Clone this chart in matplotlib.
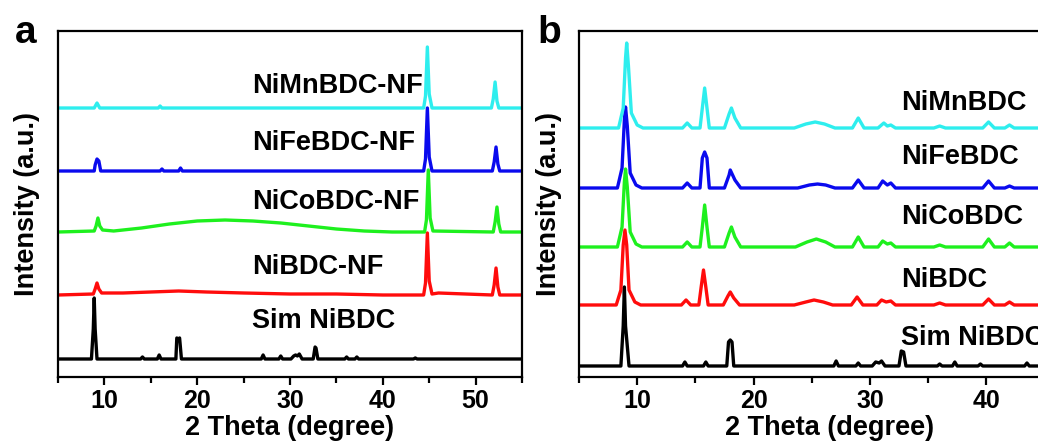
import matplotlib.pyplot as plt
from matplotlib.ticker import MultipleLocator

plt.rcParams['font.family'] = ['Liberation Sans', 'DejaVu Sans']
plt.rcParams['font.weight'] = 'bold'

### XRD patterns as (2 theta, intensity above own baseline) vertices ###

# (a) films grown on nickel foam
a_sim = [(5, 0), (8.6, 0), (8.8, 30), (8.9, 61), (9.0, 30), (9.2, 0), (13.9, 0), (14.1, 2), (14.3, 0),
         (15.7, 0), (15.9, 4), (16.1, 0), (17.7, 0), (17.8, 21), (18.0, 20), (18.1, 21), (18.3, 0),
         (26.9, 0), (27.1, 4), (27.3, 0), (28.8, 0), (29.0, 3), (29.2, 0), (30.1, 0), (30.4, 3),
         (30.6, 4), (30.8, 3), (31.0, 5), (31.3, 0), (32.5, 0), (32.7, 12), (32.8, 11), (33.0, 0),
         (35.9, 0), (36.1, 2), (36.3, 0), (37.0, 0), (37.2, 2), (37.4, 0), (43.3, 0), (43.5, 1),
         (43.7, 0), (55, 0)]
a_ni = [(5, 0), (8.8, 1), (9.0, 6), (9.2, 12), (9.4, 6), (9.7, 2), (12, 2), (15, 3), (18, 4), (21, 3),
        (25, 2), (30, 1), (35, 1), (40, 0), (44.4, 0), (44.6, 12), (44.8, 62), (45.0, 14), (45.3, 1),
        (46, 2), (51.8, 0), (52.0, 10), (52.2, 27), (52.4, 8), (52.6, 0), (55, 0)]
a_nico = [(5, 0), (8.9, 1), (9.1, 6), (9.3, 14), (9.5, 6), (9.8, 2), (11, 1), (14, 4), (17, 8), (20, 11),
          (23, 12), (26, 11), (29, 9), (32, 6), (35, 3), (38, 1), (41, 0), (44.5, 0), (44.7, 12),
          (44.9, 62), (45.1, 14), (45.4, 1), (51.9, 0), (52.1, 10), (52.3, 25), (52.5, 8), (52.7, 0),
          (55, 0)]
a_nife = [(5, 0), (8.9, 0), (9.0, 6), (9.2, 12), (9.4, 10), (9.6, 0), (16.0, 0), (16.2, 2), (16.4, 0),
          (18.0, 0), (18.2, 3), (18.4, 0), (44.4, 0), (44.6, 12), (44.8, 63), (45.0, 14), (45.3, 0),
          (51.8, 0), (52.0, 9), (52.2, 24), (52.4, 7), (52.6, 0), (55, 0)]
a_nimn = [(5, 0), (8.9, 0), (9.2, 5), (9.5, 0), (15.8, 0), (16.0, 2), (16.2, 0), (44.4, 0), (44.6, 12),
          (44.8, 61), (45.0, 14), (45.3, 0), (51.7, 0), (51.9, 9), (52.1, 26), (52.3, 7), (52.5, 0),
          (55, 0)]

# (b) powders
b_sim = [(5, 0), (8.6, 0), (8.8, 40), (8.9, 79), (9.0, 40), (9.3, 0), (13.9, 0), (14.1, 4), (14.3, 0),
         (15.7, 0), (15.9, 4), (16.1, 0), (17.7, 0), (17.85, 24), (18.0, 26), (18.15, 24), (18.3, 0),
         (26.9, 0), (27.1, 5), (27.3, 0), (28.8, 0), (29.0, 3), (29.2, 0), (30.2, 0), (30.5, 4),
         (30.8, 3), (31.0, 5), (31.3, 0), (32.5, 0), (32.7, 15), (32.9, 14), (33.1, 0), (35.8, 0),
         (36.0, 2), (36.2, 0), (37.1, 0), (37.3, 4), (37.5, 0), (39.3, 0), (39.5, 2), (39.7, 0),
         (43.3, 0), (43.5, 3), (43.7, 0), (48, 0)]
b_ni = [(5, 0), (8.2, 0), (8.6, 15), (8.8, 60), (8.95, 75), (9.1, 60), (9.3, 15), (9.8, 3), (10.3, 0),
        (13.8, 0), (14.2, 5), (14.6, 0), (15.3, 0), (15.5, 18), (15.7, 35), (15.9, 18), (16.1, 0),
        (17.4, 0), (17.8, 9), (18.0, 13), (18.3, 7), (18.8, 0), (23.5, 0), (24.5, 3), (25.2, 5),
        (26.0, 3), (26.8, 0), (28.4, 0), (28.9, 8), (29.4, 0), (30.6, 0), (31.0, 5), (31.4, 3),
        (31.8, 4), (32.2, 0), (35.5, 0), (36.0, 2), (36.5, 0), (39.7, 0), (40.2, 6), (40.7, 0),
        (41.6, 0), (42.0, 3), (42.4, 0), (48, 0)]
b_nico = [(5, 0), (8.3, 0), (8.7, 20), (8.9, 65), (9.0, 78), (9.15, 60), (9.4, 15), (9.9, 3), (10.4, 0),
          (13.9, 0), (14.3, 5), (14.7, 0), (15.4, 0), (15.6, 20), (15.8, 42), (16.0, 20), (16.2, 0),
          (17.5, 0), (17.9, 14), (18.1, 20), (18.4, 10), (18.9, 0), (23.6, 0), (24.6, 5), (25.4, 8),
          (26.2, 5), (27.0, 0), (28.5, 0), (29.0, 10), (29.5, 0), (30.7, 0), (31.1, 6), (31.5, 3),
          (31.8, 4), (32.2, 0), (35.5, 0), (36.0, 2), (36.5, 0), (39.7, 0), (40.2, 8), (40.7, 0),
          (41.6, 0), (42.0, 4), (42.4, 0), (48, 0)]
b_nife = [(5, 0), (8.3, 0), (8.7, 20), (8.9, 68), (9.0, 81), (9.15, 62), (9.4, 15), (9.9, 3), (10.4, 0),
          (13.9, 0), (14.3, 5), (14.7, 0), (15.4, 0), (15.6, 30), (15.8, 36), (16.0, 30), (16.2, 0),
          (17.5, 0), (17.9, 13), (18.0, 18), (18.4, 8), (18.9, 0), (23.8, 0), (24.8, 3), (25.5, 4),
          (26.2, 3), (27.0, 0), (28.5, 0), (29.0, 8), (29.5, 0), (30.7, 0), (31.1, 7), (31.5, 3),
          (31.8, 5), (32.2, 0), (39.7, 0), (40.2, 7), (40.7, 0), (41.6, 0), (42.0, 2), (42.4, 0),
          (48, 0)]
b_nimn = [(5, 0), (8.4, 0), (8.8, 20), (9.0, 70), (9.1, 85), (9.25, 62), (9.5, 15), (10.0, 3), (10.5, 0),
          (13.9, 0), (14.3, 5), (14.7, 0), (15.4, 0), (15.6, 20), (15.8, 40), (16.0, 20), (16.2, 0),
          (17.5, 0), (17.9, 14), (18.1, 20), (18.4, 10), (18.9, 0), (23.5, 0), (24.5, 4), (25.3, 6),
          (26.1, 4), (27.0, 0), (28.5, 0), (29.0, 10), (29.5, 0), (30.7, 0), (31.2, 5), (31.5, 2),
          (31.8, 3), (32.2, 0), (35.5, 0), (36.0, 2), (36.5, 0), (39.7, 0), (40.2, 6), (40.7, 0),
          (41.6, 0), (42.0, 3), (42.4, 0), (48, 0)]

a_labels = ['Sim NiBDC', 'NiBDC-NF', 'NiCoBDC-NF', 'NiFeBDC-NF', 'NiMnBDC-NF']
b_labels = ['Sim NiBDC', 'NiBDC', 'NiCoBDC', 'NiFeBDC', 'NiMnBDC']
colors = ['black', '#FF0C0C', '#1EF01E', '#0A0AEE', '#2EEEEE']

# vertical stacking offsets and label heights (same units as intensity)
a_offsets = [18, 82, 145, 206, 269]
a_text_y = [56, 110, 175, 234, 291]
b_offsets = [11, 72, 130, 189, 249]
b_text_y = [39, 97, 160, 220, 274]

fig = plt.figure(figsize=(10.38, 4.43), dpi=100)
ax_a = fig.add_axes([0.0559, 0.149, 0.447, 0.781])
ax_b = fig.add_axes([0.5578, 0.149, 0.482, 0.781])  # right edge runs past the figure

panels = [
    (ax_a, [a_sim, a_ni, a_nico, a_nife, a_nimn], a_labels, a_offsets, a_text_y, (5, 55), 25.9, -0.039),
    (ax_b, [b_sim, b_ni, b_nico, b_nife, b_nimn], b_labels, b_offsets, b_text_y, (5, 48), 32.7, -0.034),
]

for ax, series, labels, offsets, text_y, xlim, text_x, ylab_x in panels:
    for pts, lab, col, off, ty in zip(series, labels, colors, offsets, text_y):
        xs = [p[0] for p in pts]
        ys = [p[1] + off for p in pts]
        ax.plot(xs, ys, color=col, lw=2.4, solid_joinstyle='round')
        ax.text(text_x, ty, lab, fontsize=19.5, fontweight='bold', va='center', ha='left')
    ax.set_xlim(*xlim)
    ax.set_ylim(0, 346)
    ax.set_yticks([])
    ax.xaxis.set_major_locator(MultipleLocator(10))
    ax.xaxis.set_minor_locator(MultipleLocator(5))
    ax.tick_params(axis='x', which='major', direction='out', length=6, width=1.6, labelsize=18, pad=3)
    ax.tick_params(axis='x', which='minor', direction='out', length=4, width=1.6)
    for sp in ax.spines.values():
        sp.set_linewidth(1.6)
    ax.set_xlabel('2 Theta (degree)', fontsize=19.5, fontweight='bold', labelpad=1)
    ax.set_ylabel('Intensity (a.u.)', fontsize=19.5, fontweight='bold')
    ax.yaxis.set_label_coords(ylab_x, 0.5)

# panel letters
fig.text(0.0145, 0.903, 'a', fontsize=28, fontweight='bold')
fig.text(0.518, 0.903, 'b', fontsize=28, fontweight='bold')

fig.savefig('out.png', dpi=100)
